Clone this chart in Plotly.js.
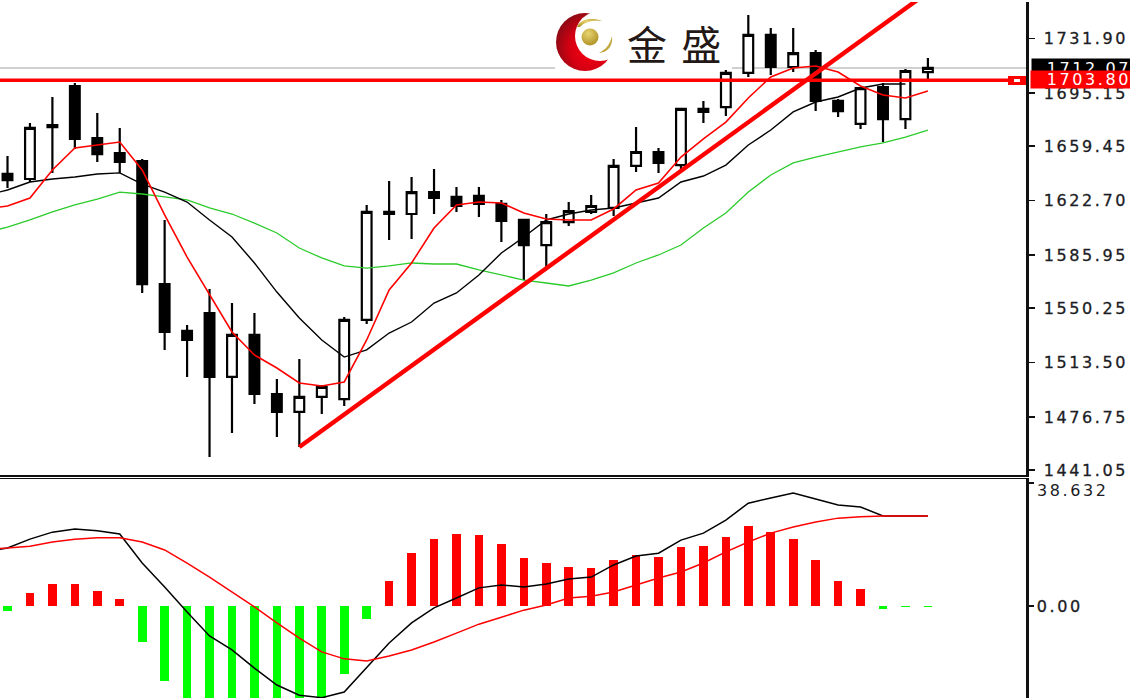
<!DOCTYPE html>
<html>
<head>
<meta charset="utf-8">
<script src="https://cdn.plot.ly/plotly-3.0.1.min.js"></script>
<style>
html,body{margin:0;padding:0;background:#fff;overflow:hidden}
#chart{width:1130px;height:698px}
.ytick text,.y2tick text,.annotation-text{letter-spacing:2.6px;stroke-width:0.3px}
.ytick text,.y2tick text{stroke:#1c1c24}
</style>
</head>
<body>
<div id="chart"></div>
<script>
// Bars run from one bar before the left edge (off-screen) to the last bar.
var openPrices  = [1628,1640.6,1637.2,1673.6,1699.9,1664.8,1654.7,1649.3,1566.4,1534.8,1546.9,1503.8,1532.1,1492.3,1480.2,1490.3,1488.9,1542.2,1615.0,1613.6,1628.4,1625.1,1625.8,1620.4,1609.6,1592.7,1608.2,1615.0,1617.7,1646.0,1655.4,1646.6,1684.4,1685.7,1708.7,1734.3,1712.7,1722.1,1689.8,1674.3,1699.2,1677.6,1709.3];
var highPrices  = [1640,1652.7,1674.9,1692.5,1701.9,1681.7,1671.6,1650.7,1609.6,1538.8,1563.1,1553.6,1546.9,1502.4,1515.9,1498.4,1544.2,1619.7,1635.9,1638.6,1644.0,1631.8,1631.8,1623.1,1610.2,1613.6,1621.7,1626.4,1650.7,1672.2,1658.1,1685.1,1689.8,1710.7,1747.7,1739.0,1739.0,1724.2,1691.1,1699.2,1701.9,1711.3,1718.8];
var lowPrices   = [1622,1631.1,1635.2,1641.3,1657.4,1648.7,1641.3,1560.4,1522.0,1503.8,1449.8,1466.0,1485.6,1463.3,1456.6,1478.8,1484.2,1539.5,1596.1,1596.8,1613.6,1615.0,1611.6,1594.8,1569.1,1577.9,1605.5,1613.6,1612.3,1641.9,1641.3,1643.3,1674.9,1679.7,1706.0,1707.3,1709.3,1683.0,1679.0,1670.9,1662.1,1670.9,1704.6];
var closePrices = [1634,1636.5,1671.6,1672.2,1664.2,1654.0,1648.7,1566.4,1534.1,1528.7,1503.8,1532.1,1492.3,1480.2,1490.3,1497.0,1542.2,1615.0,1613.6,1628.4,1624.4,1619.0,1620.4,1608.9,1592.7,1608.2,1615.6,1619.0,1646.0,1655.4,1648.0,1684.4,1682.4,1708.7,1734.3,1712.7,1722.1,1689.8,1683.0,1698.5,1677.6,1710.0,1712.07];

var maRed   = [1617,1619.0,1624.4,1643.3,1658.1,1660.1,1662.1,1643.3,1613.0,1584.6,1559.0,1534.1,1518.6,1509.8,1499.7,1497.7,1500.4,1528.7,1562.4,1580.6,1604.2,1619.7,1621.7,1621.0,1614.3,1610.2,1609.6,1609.6,1617.0,1629.8,1634.5,1652.0,1664.2,1675.6,1691.8,1706.0,1712.0,1713.4,1709.3,1699.9,1693.8,1691.8,1696.5];
var maBlack = [1626,1629.8,1635.2,1637.2,1638.6,1640.6,1641.3,1633.8,1628.4,1621.7,1609.6,1598.1,1580.6,1561.0,1543.5,1528.7,1517.2,1522.0,1533.4,1540.8,1553.6,1560.4,1572.5,1587.3,1598.1,1609.6,1613.6,1616.3,1617.7,1621.0,1624.4,1635.2,1639.2,1646.6,1660.1,1670.2,1682.4,1689.1,1692.5,1698.5,1701.2,1701.2,null];
var maGreen = [1601,1604.8,1609.6,1615.0,1619.7,1623.7,1628.4,1627.1,1625.1,1623.1,1617.7,1613.6,1607.5,1600.8,1590.7,1584.0,1578.6,1577.2,1578.6,1580.6,1579.9,1579.9,1575.9,1572.5,1569.1,1567.1,1565.1,1569.1,1573.9,1580.6,1586.0,1592.7,1604.2,1614.3,1628.4,1639.9,1648.0,1652.0,1655.4,1658.8,1661.5,1665.5,1670.2];

var macdLine   = [17.0,18.2,21.0,23.2,24.2,23.6,22.6,13.5,6.0,-1.9,-9.4,-13.8,-19.5,-24.8,-28.0,-28.8,-27.0,-19.2,-11.6,-5.3,-0.6,2.5,5.7,6.6,6.0,6.9,8.5,9.1,12.9,15.7,16.6,20.7,22.9,27.0,32.3,33.9,35.5,33.6,31.7,31.1,28.3,28.3,28.3];
var signalLine = [17.9,18.2,18.8,20.1,21.0,21.4,21.4,20.1,17.6,13.5,9.1,4.4,-0.3,-5.3,-10.1,-14.4,-16.6,-17.3,-15.7,-13.8,-11.3,-8.5,-5.7,-3.5,-1.3,0.3,2.5,3.1,4.4,6.6,8.8,10.7,13.5,17.0,20.1,22.9,24.8,26.4,27.6,28.0,28.3,28.3,28.3];
var macdHist   = [-1,-1.5,4.2,6.8,6.8,4.7,2.1,-11.2,-23.5,-31,-37,-36,-38,-39,-36,-30,-21.5,-4.1,7.9,16.5,21.1,22.6,22.2,19.6,15,13.4,12.4,11.8,14.4,15.9,15.5,18.5,19,21.7,25.2,23.1,21.1,14.4,7.8,5.2,-0.9,-0.3,-0.3];

var barIndex = openPrices.map(function(_, i){ return i - 1; });

var trendIndex = [13, 40.53];
var trendPrice = [1456.6, 1757.9];

var resistancePrice = 1703.80;
var bidPrice = 1712.07;
var gapFrom = 24.39, gapTo = 32.27;

var priceTickVals = [1731.90,1695.15,1659.45,1622.70,1585.95,1550.25,1513.50,1476.75,1441.05];
var priceTickText = ['1731.90','1695.15','1659.45','1622.70','1585.95','1550.25','1513.50','1476.75','1441.05'];
var macdTickVals = [38.632, 0];
var macdTickText = ['', '0.00'];

var W = 1130, H = 698;
function px(x){ return x / W; }
function py(y){ return 1 - y / H; }
var xRange = [-0.334, 45.37];
var tickFont = {family:'DejaVu Sans', size:16, color:'#1c1c24'};

var logoSvg = "<svg xmlns='http://www.w3.org/2000/svg' width='60' height='60' viewBox='0 0 60 60'>" +
 "<defs><radialGradient id='r' cx='0.62' cy='0.6' r='0.65'><stop offset='0' stop-color='#ff0010'/><stop offset='0.6' stop-color='#d40012'/><stop offset='1' stop-color='#8c0a14'/></radialGradient>" +
 "<radialGradient id='g' cx='0.4' cy='0.3' r='0.8'><stop offset='0' stop-color='#e8d470'/><stop offset='1' stop-color='#a98a1e'/></radialGradient></defs>" +
 "<circle cx='30' cy='30' r='29' fill='url(#r)'/>" +
 "<circle cx='45' cy='24' r='25' fill='#fff'/>" +
 "<circle cx='35' cy='25' r='8.5' fill='url(#g)'/>" +
 "<path d='M22 15 C25 7 37 5 47 9 C40 8 30 9 25 15 Z' fill='url(#g)'/>" +
 "<path d='M44 41 C50 38 55 33 57 24 C58 33 54 40 44 41 Z' fill='url(#g)'/>" +
 "</svg>";

var traces = [
 {type:'candlestick', x:barIndex, open:openPrices, high:highPrices, low:lowPrices, close:closePrices,
  xaxis:'x', yaxis:'y', hoverinfo:'skip', whiskerwidth:0,
  increasing:{line:{color:'#000',width:2.2}, fillcolor:'#ffffff'},
  decreasing:{line:{color:'#000',width:2.2}, fillcolor:'#000000'}},
 {type:'scatter', mode:'lines', x:barIndex, y:maGreen, xaxis:'x', yaxis:'y', line:{color:'#2ccb2c',width:1.3}, hoverinfo:'skip'},
 {type:'scatter', mode:'lines', x:barIndex, y:maBlack, xaxis:'x', yaxis:'y', line:{color:'#000',width:1.4}, hoverinfo:'skip'},
 {type:'scatter', mode:'lines', x:barIndex, y:maRed, xaxis:'x', yaxis:'y', line:{color:'#ff0000',width:1.6}, hoverinfo:'skip'},
 {type:'scatter', mode:'lines', x:trendIndex, y:trendPrice, xaxis:'x', yaxis:'y', line:{color:'#ff0000',width:4.4}, hoverinfo:'skip'},
 {type:'scatter', mode:'lines', x:[xRange[0],xRange[1]], y:[resistancePrice,resistancePrice], xaxis:'x', yaxis:'y', line:{color:'#ff0000',width:3.4}, hoverinfo:'skip'},
 {type:'bar', x:barIndex, y:macdHist, xaxis:'x2', yaxis:'y2', width:0.385,
  marker:{color:macdHist.map(function(v){ return v >= 0 ? '#ff0000' : '#00ff00'; }), line:{width:0}}, hoverinfo:'skip'},
 {type:'scatter', mode:'lines', x:barIndex, y:macdLine, xaxis:'x2', yaxis:'y2', line:{color:'#000',width:1.5}, hoverinfo:'skip'},
 {type:'scatter', mode:'lines', x:barIndex, y:signalLine, xaxis:'x2', yaxis:'y2', line:{color:'#ff0000',width:1.5}, hoverinfo:'skip'}
];

var layout = {
 width:W, height:H, margin:{l:0,r:0,t:0,b:0,pad:0},
 paper_bgcolor:'#fff', plot_bgcolor:'#fff', showlegend:false, boxgap:0.38, bargap:0,
 xaxis:{domain:[0,1026/W], range:xRange, anchor:'y', showgrid:false, zeroline:false, showticklabels:false, ticks:'',
        showline:true, linecolor:'#111', linewidth:2, side:'bottom', rangeslider:{visible:false}, fixedrange:true},
 yaxis:{domain:[py(475), py(2)], range:[1437.7,1756.5], anchor:'x', side:'right', showgrid:false, zeroline:false,
        showline:true, linecolor:'#111', linewidth:2.5, ticks:'outside', ticklen:6, tickwidth:1.5, tickcolor:'#111',
        tickmode:'array', tickvals:priceTickVals, ticktext:priceTickText, tickfont:tickFont, ticklabelstandoff:6, fixedrange:true},
 xaxis2:{domain:[0,1026/W], range:xRange, anchor:'y2', showgrid:false, zeroline:false, showticklabels:false, ticks:'',
        showline:true, linecolor:'#111', linewidth:1.5, side:'top', fixedrange:true},
 yaxis2:{domain:[0, py(479)], range:[-28.89,39.89], anchor:'x2', side:'right', showgrid:false, zeroline:false,
        showline:true, linecolor:'#111', linewidth:2.5, ticks:'outside', ticklen:5, tickwidth:1.5, tickcolor:'#111',
        tickmode:'array', tickvals:macdTickVals, ticktext:macdTickText, tickfont:tickFont, fixedrange:true},
 shapes:[
  {type:'line', layer:'below', xref:'x', yref:'y', x0:xRange[0], x1:gapFrom, y0:bidPrice, y1:bidPrice, line:{color:'#c0c0c0',width:1.5}},
  {type:'line', layer:'below', xref:'x', yref:'y', x0:gapTo, x1:xRange[1], y0:bidPrice, y1:bidPrice, line:{color:'#c0c0c0',width:1.5}},
  {type:'rect', layer:'above', xref:'paper', yref:'paper', x0:px(1008), x1:px(1026), y0:py(85), y1:py(76), fillcolor:'#ff0000', line:{width:0}},
  {type:'rect', layer:'above', xref:'paper', yref:'paper', x0:px(1014), x1:px(1020), y0:py(82), y1:py(79), fillcolor:'#ffffff', line:{width:0}}
 ],
 images:[{source:'data:image/svg+xml;utf8,' + encodeURIComponent(logoSvg), xref:'paper', yref:'paper',
          x:px(555), y:py(12), sizex:px(60), sizey:60/H, xanchor:'left', yanchor:'top', sizing:'stretch', layer:'above'}],
 annotations:[
  {xref:'paper', yref:'paper', x:px(675), y:py(43), text:'金 盛', showarrow:false, xanchor:'center', yanchor:'middle',
   font:{family:'Noto Sans CJK SC', size:40, color:'#231815'}},
  {xref:'paper', yref:'paper', x:px(1031), y:py(68), text:bidPrice.toFixed(2), showarrow:false, xanchor:'left', yanchor:'middle',
   width:99, height:18, align:'right', bgcolor:'#000000', font:{family:'DejaVu Sans', size:16, color:'#ffffff'}, borderpad:0},
  {xref:'paper', yref:'paper', x:px(1030), y:py(79.5), text:resistancePrice.toFixed(2), showarrow:false, xanchor:'left', yanchor:'middle',
   width:100, height:17, align:'right', bgcolor:'#ff0000', font:{family:'DejaVu Sans', size:16, color:'#ffffff'}, borderpad:0},
  {xref:'paper', yref:'paper', x:px(1036), y:py(490), text:'38.632', showarrow:false, xanchor:'left', yanchor:'middle',
   font:tickFont, borderpad:0}
 ]
};

Plotly.newPlot('chart', traces, layout, {staticPlot:true, displayModeBar:false});
</script>
</body>
</html>
